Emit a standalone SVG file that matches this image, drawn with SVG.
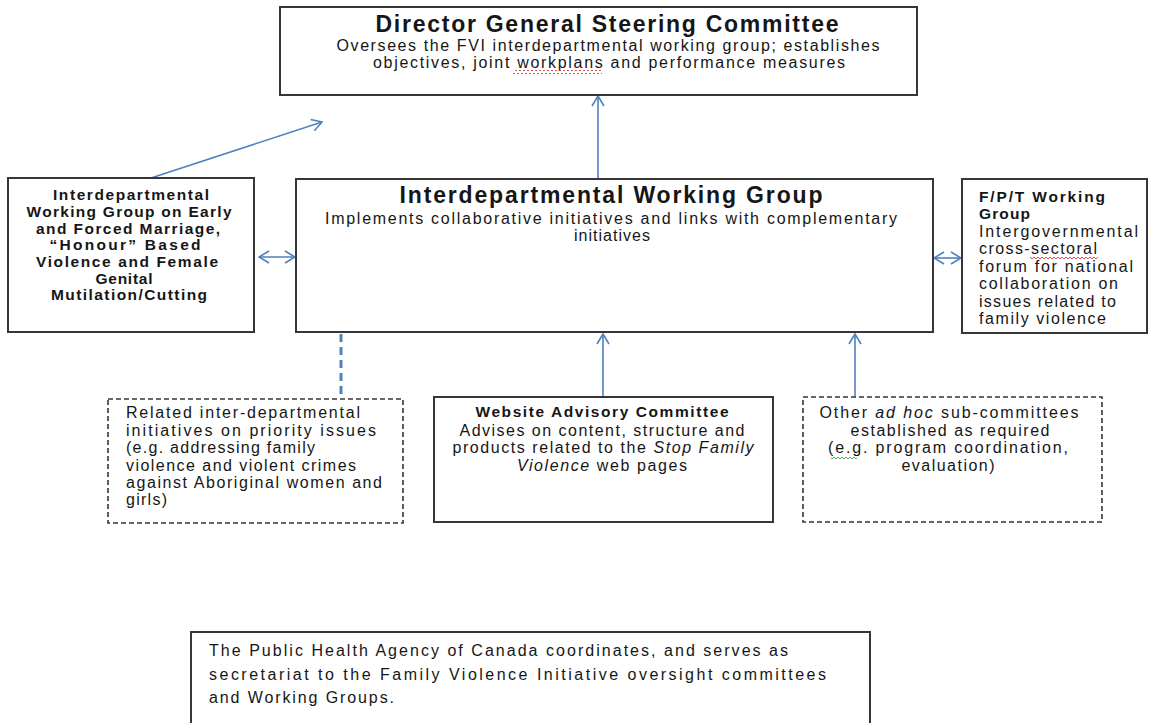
<svg xmlns="http://www.w3.org/2000/svg" width="1149" height="723" viewBox="0 0 1149 723">
  <style>
    .box { fill: #ffffff; stroke: #363636; stroke-width: 2; }
    .dash { fill: #ffffff; stroke: #363636; stroke-width: 1.6; stroke-dasharray: 5 3; }
    .link { fill: none; stroke: #4f81bd; stroke-width: 1.6; }
    .t { font-family: "Liberation Sans", Arial, sans-serif; fill: #161616; }
    .h1 { font-size: 23px; font-weight: bold; }
    .h2 { font-size: 15.5px; font-weight: bold; }
    .b { font-size: 16px; }
    .c { text-anchor: middle; }
  </style>
  <defs>
    <marker id="open" viewBox="0 0 12 14" refX="11" refY="7" markerWidth="12" markerHeight="14" markerUnits="userSpaceOnUse" orient="auto-start-reverse">
      <path d="M1,1 L11,7 L1,13" fill="none" stroke="#4f81bd" stroke-width="1.6"/>
    </marker>
    <!-- proofing underline waves -->
    <pattern id="wave-red" width="4" height="4" patternUnits="userSpaceOnUse">
      <path d="M0,3 L2,1 L4,3" fill="none" stroke="#e03a3a" stroke-width="0.9"/>
    </pattern>
    <pattern id="wave-green" width="4" height="4" patternUnits="userSpaceOnUse">
      <path d="M0,3 L2,1 L4,3" fill="none" stroke="#3aa04a" stroke-width="0.9"/>
    </pattern>
  </defs>

  <!-- connectors -->
  <g id="connectors">
    <line class="link" x1="598" y1="178" x2="598" y2="96" marker-end="url(#open)"/>
    <line class="link" x1="151" y1="178" x2="322" y2="122" marker-end="url(#open)"/>
    <line class="link" x1="259" y1="257" x2="295" y2="257" marker-start="url(#open)" marker-end="url(#open)"/>
    <line class="link" x1="934" y1="258" x2="961" y2="258" marker-start="url(#open)" marker-end="url(#open)"/>
    <line x1="341" y1="334" x2="341" y2="398" stroke="#4f81bd" stroke-width="3" stroke-dasharray="8 5"/>
    <line class="link" x1="603" y1="397" x2="603" y2="334" marker-end="url(#open)"/>
    <line class="link" x1="855" y1="397" x2="855" y2="334" marker-end="url(#open)"/>
  </g>

  <!-- steering committee -->
  <g id="dg-steering">
    <rect class="box" x="280" y="7" width="637" height="88"/>
    <text class="t h1 c" x="607" y="32" textLength="463">Director General Steering Committee</text>
    <text class="t b c" x="608" y="51" textLength="543">Oversees the FVI interdepartmental working group; establishes</text>
    <text class="t b c" x="609" y="68" textLength="472">objectives, joint workplans and performance measures</text>
    <rect x="513" y="70" width="89" height="4" fill="url(#wave-red)"/>
  </g>

  <!-- early and forced marriage working group -->
  <g id="efm-working-group">
    <rect class="box" x="8" y="178" width="246" height="154"/>
    <text class="t h2 c" x="131" y="200" textLength="156">Interdepartmental</text>
    <text class="t h2 c" x="129" y="217" textLength="205">Working Group on Early</text>
    <text class="t h2 c" x="128" y="234" textLength="184">and Forced Marriage,</text>
    <text class="t h2 c" x="125" y="250" textLength="151">“Honour” Based</text>
    <text class="t h2 c" x="127" y="267" textLength="182">Violence and Female</text>
    <text class="t h2 c" x="124" y="284" textLength="57">Genital</text>
    <text class="t h2 c" x="129" y="300" textLength="156">Mutilation/Cutting</text>
  </g>

  <!-- interdepartmental working group -->
  <g id="iwg">
    <rect class="box" x="296" y="179" width="637" height="153"/>
    <text class="t c" x="611" y="203" font-size="23" font-weight="bold" textLength="423">Interdepartmental Working Group</text>
    <text class="t b c" x="611" y="224" textLength="572">Implements collaborative initiatives and links with complementary</text>
    <text class="t b c" x="612" y="241" textLength="76">initiatives</text>
  </g>

  <!-- F/P/T working group -->
  <g id="fpt-working-group">
    <rect class="box" x="962" y="179" width="185" height="154"/>
    <text class="t h2" x="979" y="202" textLength="126">F/P/T Working</text>
    <text class="t h2" x="979" y="219" textLength="51">Group</text>
    <text class="t b" x="979" y="237" textLength="159">Intergovernmental</text>
    <text class="t b" x="979" y="254" textLength="118">cross-sectoral</text>
    <text class="t b" x="979" y="272" textLength="154">forum for national</text>
    <text class="t b" x="979" y="289" textLength="139">collaboration on</text>
    <text class="t b" x="979" y="307" textLength="137">issues related to</text>
    <text class="t b" x="979" y="324" textLength="127">family violence</text>
    <rect x="1030" y="256" width="68" height="4" fill="url(#wave-red)"/>
  </g>

  <!-- related initiatives -->
  <g id="related-initiatives">
    <rect class="dash" x="108" y="399" width="295" height="124"/>
    <text class="t b" x="126" y="418" textLength="234">Related inter-departmental</text>
    <text class="t b" x="126" y="436" textLength="250">initiatives on priority issues</text>
    <text class="t b" x="126" y="453" textLength="189">(e.g. addressing family</text>
    <text class="t b" x="126" y="471" textLength="230">violence and violent crimes</text>
    <text class="t b" x="126" y="488" textLength="256">against Aboriginal women and</text>
    <text class="t b" x="126" y="505" textLength="41">girls)</text>
  </g>

  <!-- website advisory committee -->
  <g id="website-advisory">
    <rect class="box" x="434" y="397" width="339" height="125"/>
    <text class="t h2 c" x="602" y="417" textLength="253">Website Advisory Committee</text>
    <text class="t b c" x="602" y="436" textLength="285">Advises on content, structure and</text>
    <text class="t b c" x="603" y="453" textLength="301">products related to the <tspan font-style="italic">Stop Family</tspan></text>
    <text class="t b c" x="602" y="471" textLength="170"><tspan font-style="italic">Violence</tspan> web pages</text>
  </g>

  <!-- ad hoc sub-committees -->
  <g id="ad-hoc">
    <rect class="dash" x="803" y="397" width="299" height="125"/>
    <text class="t b c" x="949" y="418" textLength="259">Other <tspan font-style="italic">ad hoc</tspan> sub-committees</text>
    <text class="t b c" x="950" y="436" textLength="199">established as required</text>
    <text class="t b c" x="948" y="453" textLength="240">(e.g. program coordination,</text>
    <text class="t b c" x="948" y="471" textLength="93">evaluation)</text>
    <rect x="831" y="455" width="26" height="4" fill="url(#wave-green)"/>
  </g>

  <!-- secretariat note -->
  <g id="secretariat-note">
    <rect class="box" x="191" y="632" width="679" height="100"/>
    <text class="t b" x="209" y="656" textLength="579">The Public Health Agency of Canada coordinates, and serves as</text>
    <text class="t b" x="209" y="680" textLength="617">secretariat to the Family Violence Initiative oversight committees</text>
    <text class="t b" x="209" y="703" textLength="185">and Working Groups.</text>
  </g>
</svg>
